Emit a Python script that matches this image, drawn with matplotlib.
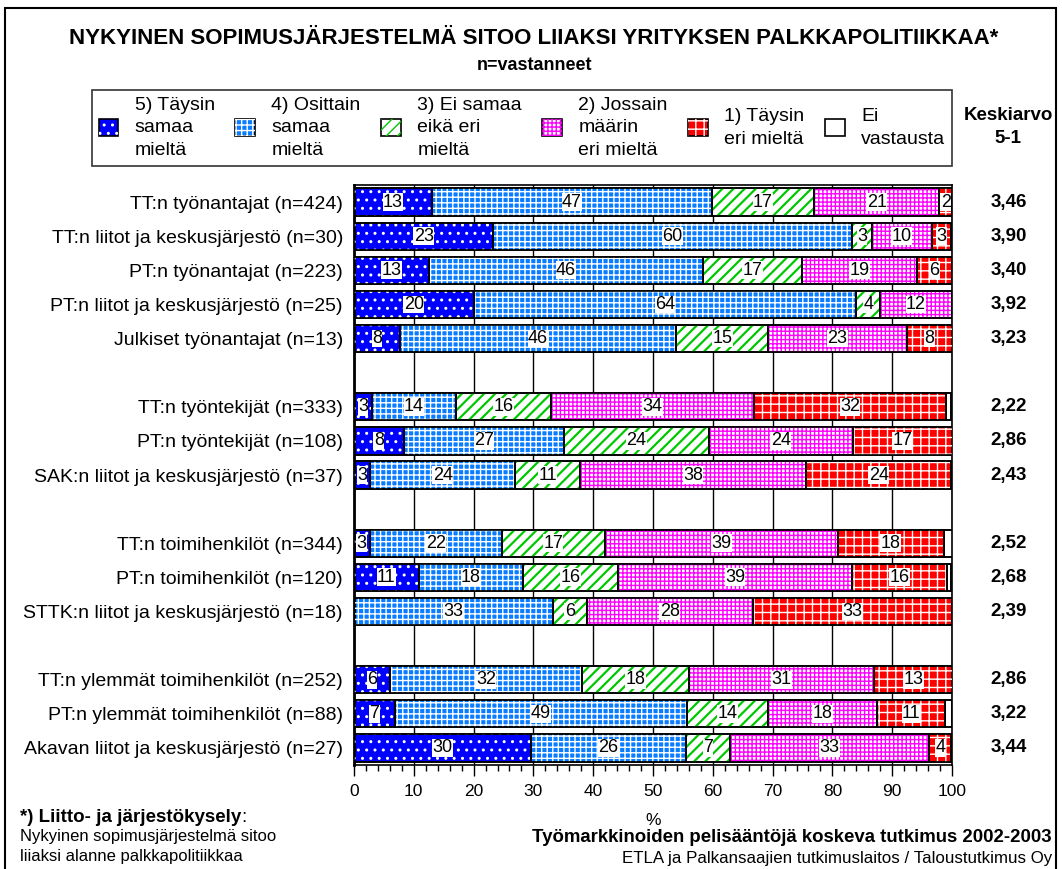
import matplotlib
matplotlib.use("Agg")
import matplotlib.pyplot as plt
from matplotlib.patches import Patch, Rectangle
from matplotlib.legend_handler import HandlerTuple
import numpy as np

plt.rcParams['font.family'] = ['Liberation Sans', 'DejaVu Sans']
plt.rcParams['hatch.linewidth'] = 1.0

# ---------------- data ----------------
groups = [
    ["TT:n työnantajat (n=424)",
     "TT:n liitot ja keskusjärjestö (n=30)",
     "PT:n työnantajat (n=223)",
     "PT:n liitot ja keskusjärjestö (n=25)",
     "Julkiset työnantajat (n=13)"],
    ["TT:n työntekijät (n=333)",
     "PT:n työntekijät (n=108)",
     "SAK:n liitot ja keskusjärjestö (n=37)"],
    ["TT:n toimihenkilöt (n=344)",
     "PT:n toimihenkilöt (n=120)",
     "STTK:n liitot ja keskusjärjestö (n=18)"],
    ["TT:n ylemmät toimihenkilöt (n=252)",
     "PT:n ylemmät toimihenkilöt (n=88)",
     "Akavan liitot ja keskusjärjestö (n=27)"],
]
categories = [c for g in groups for c in g]

s5 = [13.0, 23.3, 12.6, 20.0, 7.7, 3.0, 8.3, 2.7, 2.6, 10.8, 0.0, 6.0, 6.8, 29.6]
s4 = [46.9, 60.0, 45.7, 64.0, 46.2, 14.1, 26.9, 24.3, 22.1, 17.5, 33.3, 32.1, 48.9, 25.9]
s3 = [17.0, 3.3, 16.6, 4.0, 15.4, 15.9, 24.1, 10.8, 17.2, 15.8, 5.6, 17.9, 13.6, 7.4]
s2 = [21.0, 10.0, 19.3, 12.0, 23.1, 33.9, 24.1, 37.8, 39.0, 39.2, 27.8, 31.0, 18.2, 33.3]
s1 = [2.1, 3.3, 5.8, 0.0, 7.7, 32.1, 16.7, 24.3, 17.7, 15.8, 33.3, 13.1, 11.4, 3.7]
s0 = [0.0, 0.0, 0.0, 0.0, 0.0, 0.9, 0.0, 0.0, 1.5, 0.8, 0.0, 0.0, 1.1, 0.0]
means = ["3,46", "3,90", "3,40", "3,92", "3,23", "2,22", "2,86", "2,43",
         "2,52", "2,68", "2,39", "2,86", "3,22", "3,44"]

series_labels = ["5) Täysin\nsamaa\nmieltä", "4) Osittain\nsamaa\nmieltä",
                 "3) Ei samaa\neikä eri\nmieltä", "2) Jossain\nmäärin\neri mieltä",
                 "1) Täysin\neri mieltä", "Ei\nvastausta"]

# styles: (facecolor, hatch, hatchcolor, hatch linewidth)
styles = [("#0000FF", "..", "white", 1.0),
          ("#0A7CFF", "+++", "white", 1.0),
          ("white", "///", "#00C800", 1.6),
          ("white", "++++", "#FF00FF", 1.0),
          ("#FF0000", "++", "white", 1.0),
          ("white", None, None, 1.0)]

# ---------------- positions ----------------
ypos = []
slot = 0
for gi, g in enumerate(groups):
    for _ in g:
        ypos.append(slot)
        slot += 1
    slot += 1
nslots = slot - 1
ypos = np.array(ypos, dtype=float)

fig = plt.figure(figsize=(10.62, 8.69), dpi=100)
ax = fig.add_axes([354/1062, 1 - 765/869, (952-354)/1062, (765-185)/869])

series = [s5, s4, s3, s2, s1, s0]
left = np.zeros(len(categories))
for k, (vals, (fc, hatch, hc, hlw)) in enumerate(zip(series, styles)):
    vals = np.array(vals)
    ax.barh(ypos, vals, left=left, height=0.8, color=fc, edgecolor='black',
            linewidth=1.2, zorder=2)
    if hatch:
        with plt.rc_context({'hatch.linewidth': hlw}):
            ax.barh(ypos, vals, left=left, height=0.8, facecolor='none',
                    edgecolor=hc, linewidth=0, hatch=hatch, zorder=3)
    ax.barh(ypos, vals, left=left, height=0.8, facecolor='none',
            edgecolor='black', linewidth=1.2, zorder=4)
    if k < 5:
        for y, l, v in zip(ypos, left, vals):
            if v >= 1:
                ax.text(l + v/2, y, f"{int(round(v))}", ha='center', va='center',
                        fontsize=13, zorder=5,
                        bbox=dict(facecolor='white', edgecolor='none', pad=0.3))
    left = left + vals

ax.set_xlim(0, 100)
ax.set_ylim(nslots - 0.5, -0.5)
ax.set_yticks(ypos, categories, fontsize=14)
ax.tick_params(axis='y', length=0, pad=8)
ax.set_xticks(np.arange(0, 101, 10))
ax.set_xticks(np.arange(0, 101, 2), minor=True)
ax.tick_params(axis='x', which='major', length=8, width=1, labelsize=12.5, pad=6)
ax.tick_params(axis='x', which='minor', length=4, width=1)
ax.xaxis.grid(True, which='major', color='black', linewidth=1)
ax.set_axisbelow(True)
for sp in ax.spines.values():
    sp.set_linewidth(1.2)
ax.spines['left'].set_linewidth(2)
ax.set_xlabel("%", fontsize=12.5, labelpad=10)

for y, m in zip(ypos, means):
    ax.text(1.095, y, m, transform=ax.get_yaxis_transform(), ha='center',
            va='center', fontsize=13.5, fontweight='bold')

# legend
handles = []
for fc, hatch, hc, hlw in styles:
    base = Patch(facecolor=fc, edgecolor='black', linewidth=1.2)
    if hatch:
        with plt.rc_context({'hatch.linewidth': hlw}):
            top = Patch(facecolor='none', edgecolor=hc, linewidth=0, hatch=hatch)
        handles.append((base, top))
    else:
        handles.append(base)
leg = fig.legend(handles, series_labels, ncol=6, loc='center',
                 bbox_to_anchor=(92/1062, 1 - 173/869, (952-92)/1062, 90/869),
                 mode='expand', fontsize=14, frameon=True, fancybox=False,
                 edgecolor='black', handlelength=1.0, handleheight=0.95,
                 handletextpad=0.85, columnspacing=1.0, borderaxespad=0,
                 borderpad=0.35,
                 handler_map={tuple: HandlerTuple(ndivide=1, pad=0)})
leg.get_frame().set_linewidth(1.2)
for t in leg.get_texts():
    t.set_linespacing(1.45)

fig.text(1008/1062, 1 - 127/869, "Keskiarvo\n5-1", ha='center', va='center',
         fontsize=13.5, fontweight='bold', linespacing=1.4)

# titles
fig.text(534/1062, 1 - 38/869,
         "NYKYINEN SOPIMUSJÄRJESTELMÄ SITOO LIIAKSI YRITYKSEN PALKKAPOLITIIKKAA*",
         ha='center', va='center', fontsize=16, fontweight='bold')
fig.text(535/1062, 1 - 65/869, "n=vastanneet", ha='center', va='center',
         fontsize=13, fontweight='bold')

# footnotes
tb = fig.text(20/1062, 1 - 817/869, "*) Liitto- ja järjestökysely", ha='left',
              va='center', fontsize=13.5, fontweight='bold')
ax.annotate(":", xy=(1, 0), xycoords=tb, ha='left', va='bottom',
            fontsize=13.5, annotation_clip=False)
fig.text(20/1062, 1 - 837/869, "Nykyinen sopimusjärjestelmä sitoo", ha='left',
         va='center', fontsize=12)
fig.text(20/1062, 1 - 857/869, "liiaksi alanne palkkapolitiikkaa", ha='left',
         va='center', fontsize=12)
fig.text(1052/1062, 1 - 838/869,
         "Työmarkkinoiden pelisääntöjä koskeva tutkimus 2002-2003",
         ha='right', va='center', fontsize=13.4, fontweight='bold')
fig.text(1052/1062, 1 - 858/869,
         "ETLA ja Palkansaajien tutkimuslaitos / Taloustutkimus Oy",
         ha='right', va='center', fontsize=12.2)

# outer frame
fig.patches.append(Rectangle((5/1062, -0.02), 1051/1062, 1 - 8/869 + 0.02,
                             transform=fig.transFigure, fill=False,
                             edgecolor='black', linewidth=1.5))

fig.savefig("out.png", dpi=100)
